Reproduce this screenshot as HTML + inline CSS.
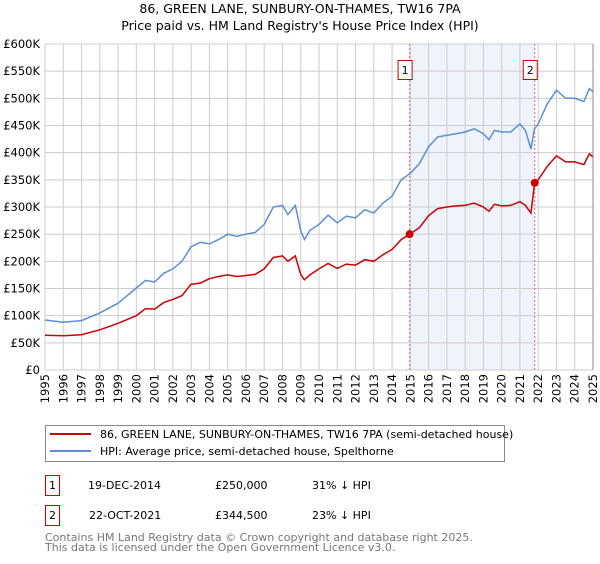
<!DOCTYPE html>
<html><head><meta charset="utf-8"><style>
body{margin:0;background:#fff;font-family:"DejaVu Sans","Liberation Sans",sans-serif;}
svg text{font-family:"DejaVu Sans","Liberation Sans",sans-serif;}
</style></head><body>
<svg id="chart" width="600" height="560" xmlns="http://www.w3.org/2000/svg">
<text x="300" y="13" text-anchor="middle" font-size="12.5">86, GREEN LANE, SUNBURY-ON-THAMES, TW16 7PA</text>
<text x="300" y="30" text-anchor="middle" font-size="12.5">Price paid vs. HM Land Registry's House Price Index (HPI)</text>
<g id="plot"></g>
<g>
<rect x="45.5" y="425.5" width="459" height="36" fill="#fff" stroke="#888"/>
<line x1="50" y1="434" x2="91" y2="434" stroke="#cc0000" stroke-width="2"/>
<text x="100" y="438" font-size="11">86, GREEN LANE, SUNBURY-ON-THAMES, TW16 7PA (semi-detached house)</text>
<line x1="50" y1="451" x2="91" y2="451" stroke="#5b8fd4" stroke-width="2"/>
<text x="100" y="455" font-size="11">HPI: Average price, semi-detached house, Spelthorne</text>
</g>
<g font-size="11">
<rect x="45.5" y="475.5" width="14" height="20" fill="#fff" stroke="#cc0000"/>
<text x="52.5" y="489" text-anchor="middle">1</text>
<text x="88" y="489">19-DEC-2014</text><text x="215" y="489">£250,000</text><text x="312" y="489">31% ↓ HPI</text>
<rect x="45.5" y="505.5" width="14" height="20" fill="#fff" stroke="#cc0000"/>
<text x="52.5" y="519" text-anchor="middle">2</text>
<text x="89" y="519">22-OCT-2021</text><text x="215" y="519">£344,500</text><text x="312" y="519">23% ↓ HPI</text>
</g>
<text x="45" y="541" font-size="11" fill="#777">Contains HM Land Registry data © Crown copyright and database right 2025.</text>
<text x="45" y="551" font-size="11" fill="#777">This data is licensed under the Open Government Licence v3.0.</text>
</svg>
<script>
const yTicks=[0,50,100,150,200,250,300,350,400,450,500,550,600];
const yTickLabels=["£0","£50K","£100K","£150K","£200K","£250K","£300K","£350K","£400K","£450K","£500K","£550K","£600K"];
const xYears=[1995,1996,1997,1998,1999,2000,2001,2002,2003,2004,2005,2006,2007,2008,2009,2010,2011,2012,2013,2014,2015,2016,2017,2018,2019,2020,2021,2022,2023,2024,2025];
const hpiT=[1995,1996,1997,1998,1999,2000,2000.5,2001,2001.5,2002,2002.5,2003,2003.5,2004,2004.5,2005,2005.5,2006,2006.5,2007,2007.5,2008,2008.3,2008.7,2009,2009.2,2009.5,2010,2010.5,2011,2011.5,2012,2012.5,2013,2013.5,2014,2014.5,2015,2015.5,2016,2016.5,2017,2017.5,2018,2018.5,2019,2019.3,2019.6,2020,2020.5,2021,2021.3,2021.6,2021.8,2022,2022.5,2023,2023.5,2024,2024.5,2024.8,2025];
const hpiV=[92,88,91,105,123,151,165,162,178,186,200,227,235,232,240,250,246,250,253,268,300,303,286,303,257,240,257,268,285,271,283,280,295,289,307,320,350,362,380,411,429,432,435,438,444,435,424,441,438,438,453,441,407,444,453,490,515,500,500,494,518,512];
const ppT=[1995,1996,1997,1998,1999,2000,2000.5,2001,2001.5,2002,2002.5,2003,2003.5,2004,2004.5,2005,2005.5,2006,2006.5,2007,2007.5,2008,2008.3,2008.7,2009,2009.2,2009.5,2010,2010.5,2011,2011.5,2012,2012.5,2013,2013.5,2014,2014.5,2014.96,2015.5,2016,2016.5,2017,2017.5,2018,2018.5,2019,2019.3,2019.6,2020,2020.5,2021,2021.3,2021.6,2021.81,2022,2022.5,2023,2023.5,2024,2024.5,2024.8,2025];
const ppV=[64,63,65,74,86,100,113,112,124,130,137,158,160,168,172,175,172,174,176,186,207,210,200,210,176,166,175,186,196,187,195,193,203,200,212,222,240,250,262,284,297,300,302,303,307,300,292,305,302,303,310,303,289,344.5,350,375,394,383,383,378,398,392];
const saleT=[2014.96,2021.81];
const saleV=[250,344.5];
const saleLabels=["1","2"];
const X0=45,X1=593,Y0=370,Y1=44;
const xs=t=>X0+(t-1995)/30*(X1-X0);
const ys=v=>Y0-v/600*(Y0-Y1);
const NS="http://www.w3.org/2000/svg";
const plot=document.getElementById('plot');
function mk(tag,attrs,parent){const e=document.createElementNS(NS,tag);for(const k in attrs)e.setAttribute(k,attrs[k]);(parent||plot).appendChild(e);return e;}
const shade=mk('rect',{x:xs(saleT[0]),y:Y1,width:xs(saleT[1])-xs(saleT[0]),height:Y0-Y1,fill:'#eef3fc'});


xYears.forEach(y=>{const l=mk('line',{x1:xs(y),x2:xs(y),y1:Y1,y2:Y0,stroke:'#ccc'});


const px=xs(y)+4;
const t=mk('text',{x:px,y:374,'text-anchor':'end','font-size':'11.5',transform:'rotate(-90 '+px+' 374)'});t.textContent=y;

});
yTicks.forEach((v,i)=>{const l=mk('line',{x1:X0,x2:X1,y1:ys(v),y2:ys(v),stroke:'#ccc'});


const t=mk('text',{x:40,y:ys(v)+4,'text-anchor':'end','font-size':'11.5'});t.textContent=yTickLabels[i];

});
const pts=(T,V)=>T.map((t,i)=>xs(t).toFixed(1)+','+ys(V[i]).toFixed(1)).join(' ');
saleT.forEach((t,i)=>{const l=mk('line',{x1:xs(t),x2:xs(t),y1:Y1,y2:Y0,stroke:'#e66','stroke-dasharray':'2,2'});

});
const h=mk('polyline',{points:pts(hpiT,hpiV),fill:'none',stroke:'#5b8fd4','stroke-width':1.5});


const p=mk('polyline',{points:pts(ppT,ppV),fill:'none',stroke:'#cc0000','stroke-width':1.5});


saleT.forEach((t,i)=>{const c=mk('circle',{cx:xs(t),cy:ys(saleV[i]),r:4,fill:'#cc0000'});


const r=mk('rect',{x:xs(t)-11.5,y:60.5,width:14,height:19,fill:'#fff',stroke:'#cc0000'});


const tx=mk('text',{x:xs(t)-4.5,y:74,'text-anchor':'middle','font-size':'11'});tx.textContent=saleLabels[i];

});
const ax=mk('line',{x1:X1,x2:X1,y1:Y1,y2:Y0,stroke:'#888'});


</script>
</body></html>
